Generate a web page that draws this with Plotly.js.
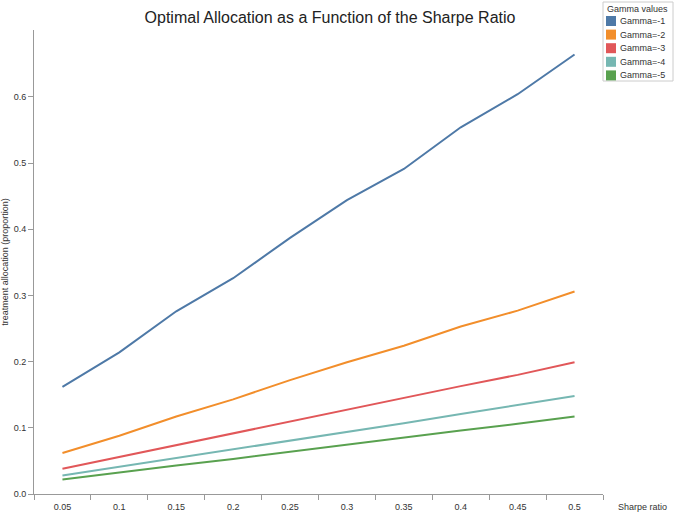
<!DOCTYPE html>
<html>
<head>
<meta charset="utf-8">
<script src="https://cdn.plot.ly/plotly-3.0.1.min.js"></script>
<style>html,body{margin:0;padding:0;background:#fff;}#chart{width:676px;height:512px;}</style>
</head>
<body>
<div id="chart"></div>
<script>
// ---- data ----
var sharpeRatios = ['0.05','0.1','0.15','0.2','0.25','0.3','0.35','0.4','0.45','0.5'];
var seriesNames = ['Gamma=-1','Gamma=-2','Gamma=-3','Gamma=-4','Gamma=-5'];
var gamma1 = [0.162, 0.214, 0.276, 0.326, 0.387, 0.444, 0.491, 0.554, 0.604, 0.664];
var gamma2 = [0.062, 0.088, 0.117, 0.143, 0.172, 0.199, 0.224, 0.253, 0.277, 0.306];
var gamma3 = [0.038, 0.056, 0.074, 0.092, 0.110, 0.128, 0.145, 0.163, 0.180, 0.199];
var gamma4 = [0.028, 0.041, 0.054, 0.067, 0.081, 0.094, 0.107, 0.121, 0.134, 0.148];
var gamma5 = [0.022, 0.033, 0.043, 0.053, 0.064, 0.075, 0.085, 0.096, 0.106, 0.117];
var yTicks = [0, 0.1, 0.2, 0.3, 0.4, 0.5, 0.6];
var legendTitle = 'Gamma values';
var chartTitle = 'Optimal Allocation as a Function of the Sharpe Ratio';
var xTitle = 'Sharpe ratio';
var yTitle = 'treatment allocation (proportion)';

// ---- styling ----
var colors = ['#4e79a7', '#f28e2b', '#e15759', '#76b7b2', '#59a14f'];
var FONT = 'Liberation Sans, Arial, sans-serif';
var allSeries = [gamma1, gamma2, gamma3, gamma4, gamma5];

var M = {l: 34, r: 73, t: 30, b: 18};
var W = 676, H = 512;
var pw = W - M.l - M.r, ph = H - M.t - M.b;
function px(x) { return (x - M.l) / pw; }
function py(y) { return (H - M.b - y) / ph; }

var traces = allSeries.map(function (vals, i) {
  return {
    type: 'scatter', mode: 'lines', name: seriesNames[i],
    x: sharpeRatios, y: vals,
    line: {color: colors[i], width: 2},
    showlegend: false, hoverinfo: 'x+y+name'
  };
});

// custom compact legend (box, title, swatches, labels)
var shapes = [{
  type: 'rect', xref: 'paper', yref: 'paper',
  x0: px(603), x1: px(673), y0: py(81), y1: py(2),
  line: {color: '#cccccc', width: 1}, fillcolor: '#ffffff', layer: 'above'
}];
var annotations = [{
  xref: 'paper', yref: 'paper', x: px(638), y: py(9), xanchor: 'center', yanchor: 'middle',
  text: legendTitle, showarrow: false, font: {family: FONT, size: 9, color: '#333'}
}];
seriesNames.forEach(function (n, i) {
  var cy = 21 + i * 13.6;
  shapes.push({
    type: 'rect', xref: 'paper', yref: 'paper',
    x0: px(606), x1: px(616), y0: py(cy + 5), y1: py(cy - 5),
    line: {width: 0}, fillcolor: colors[i], layer: 'above'
  });
  annotations.push({
    xref: 'paper', yref: 'paper', x: px(618), y: py(cy), xanchor: 'left', yanchor: 'middle',
    text: n, showarrow: false, font: {family: FONT, size: 9, color: '#333'}
  });
});
annotations.push({
  xref: 'paper', yref: 'paper', x: px(616), y: py(507), xanchor: 'left', yanchor: 'middle',
  text: xTitle, showarrow: false, font: {family: FONT, size: 9, color: '#333'}
});

var layout = {
  width: W, height: H,
  margin: M,
  paper_bgcolor: '#ffffff', plot_bgcolor: '#ffffff',
  font: {family: FONT, size: 9, color: '#333'},
  showlegend: false,
  title: {
    text: chartTitle, font: {family: FONT, size: 16, color: '#222'},
    xref: 'container', yref: 'container', x: 330 / W, y: 1 - 17 / H,
    xanchor: 'center', yanchor: 'middle'
  },
  xaxis: {
    type: 'category', range: [-0.5, 9.5],
    showline: true, linecolor: '#999', linewidth: 1,
    ticks: 'outside', tickson: 'boundaries', ticklen: 5, tickcolor: '#999',
    ticklabelstandoff: 4,
    showgrid: false, zeroline: false, automargin: false,
    tickfont: {family: FONT, size: 9, color: '#333'}
  },
  yaxis: {
    range: [0, 0.701],
    tickvals: yTicks, tickformat: '.1f',
    showline: true, linecolor: '#999', linewidth: 1,
    ticks: 'outside', ticklen: 5, tickcolor: '#999',
    showgrid: false, zeroline: false, automargin: false,
    tickfont: {family: FONT, size: 9, color: '#333'},
    title: {text: yTitle, font: {family: FONT, size: 9, color: '#333'}, standoff: 5}
  },
  shapes: shapes,
  annotations: annotations
};

Plotly.newPlot('chart', traces, layout, {displayModeBar: false, staticPlot: true});
</script>
</body>
</html>
